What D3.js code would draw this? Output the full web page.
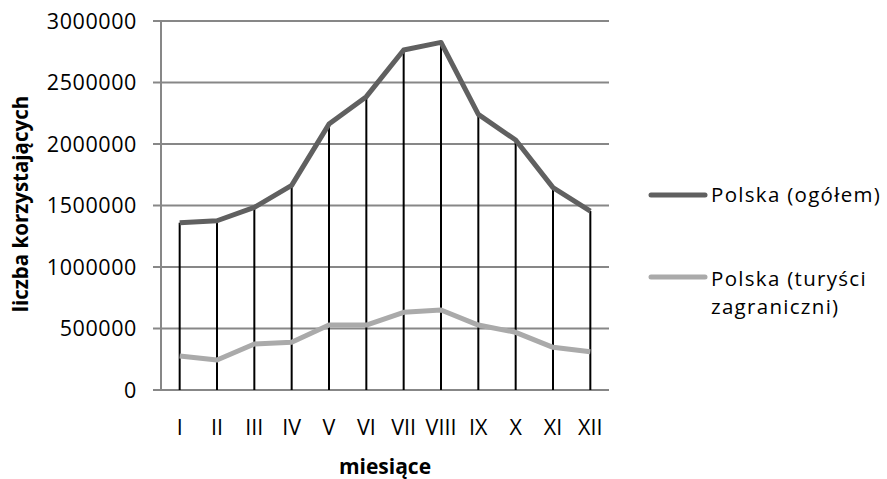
<!DOCTYPE html>
<html><head><meta charset="utf-8">
<script src="https://cdn.jsdelivr.net/npm/d3@7"></script>
<style>body{margin:0;background:#fff}svg{display:block}text{font-family:"Open Sans",sans-serif;fill:#000}</style>
</head><body><svg id="c" width="887" height="479"></svg>
<script>
const months = ["I","II","III","IV","V","VI","VII","VIII","IX","X","XI","XII"];
const total = [1360000,1376000,1485000,1664000,2162000,2385000,2764000,2826000,2241000,2032000,1645000,1455000];
const foreign = [276000,244000,374000,388000,528000,528000,632000,650000,528000,469000,347000,311000];
const yTicks = [0,500000,1000000,1500000,2000000,2500000,3000000];
const seriesNames = ["Polska (ogółem)","Polska (turyści zagraniczni)"];

const svg = d3.select("#c");
const L=161, R=609, T=21, B=390;
const x = d3.scaleBand().domain(months).range([L,R]);
const y = d3.scaleLinear().domain([0,3000000]).range([B,T]);
const fs = 21.5;

// gridlines
const g = svg.append("g");
g.selectAll("line.grid").data(yTicks).join("line")
  .attr("x1",153).attr("x2",R).attr("y1",d=>y(d)).attr("y2",d=>y(d))
  .attr("stroke","#878787").attr("stroke-width",2);
g.append("line").attr("x1",L).attr("x2",L).attr("y1",T).attr("y2",B+1)
  .attr("stroke","#878787").attr("stroke-width",2);

// y tick labels
svg.append("g").selectAll("text").data(yTicks).join("text")
  .attr("x",137).attr("y",d=>y(d)).attr("dy","0.35em").attr("text-anchor","end")
  .attr("font-size",fs).attr("letter-spacing",0.6).text(d=>d);

// x tick labels
svg.append("g").selectAll("text").data(months).join("text")
  .attr("x",d=>x(d)+x.bandwidth()/2).attr("y",427).attr("dy","0.35em").attr("text-anchor","middle")
  .attr("font-size",fs).text(d=>d);

// drop lines
svg.append("g").selectAll("line").data(months).join("line")
  .attr("x1",(d)=>x(d)+x.bandwidth()/2).attr("x2",(d)=>x(d)+x.bandwidth()/2)
  .attr("y1",(d,i)=>y(total[i])).attr("y2",y(0))
  .attr("stroke","#000").attr("stroke-width",2);

const line = d3.line().x((d,i)=>x(months[i])+x.bandwidth()/2).y(d=>y(d));
svg.append("path").datum(foreign).attr("d",line).attr("fill","none")
  .attr("stroke","#aaaaaa").attr("stroke-width",5).attr("stroke-linejoin","round");
svg.append("path").datum(total).attr("d",line).attr("fill","none")
  .attr("stroke","#606060").attr("stroke-width",5).attr("stroke-linejoin","round");

// legend
const lfs = 20.5, lls = 1.3;
const lg = svg.append("g");
lg.append("line").attr("x1",651).attr("x2",705).attr("y1",195).attr("y2",195)
  .attr("stroke","#606060").attr("stroke-width",5).attr("stroke-linecap","round");
lg.append("text").attr("x",711).attr("y",195).attr("dy","0.35em").attr("font-size",lfs)
  .attr("letter-spacing",lls).text(seriesNames[0]);
lg.append("line").attr("x1",651).attr("x2",705).attr("y1",277).attr("y2",277)
  .attr("stroke","#aaaaaa").attr("stroke-width",5).attr("stroke-linecap","round");
const t2 = lg.append("text").attr("x",711).attr("y",279).attr("dy","0.35em").attr("font-size",lfs)
  .attr("letter-spacing",lls);
t2.append("tspan").attr("x",711).text("Polska (turyści");
t2.append("tspan").attr("x",711).attr("dy",28.2).text("zagraniczni)");

// axis titles
svg.append("text").attr("x",385).attr("y",467).attr("dy","0.35em").attr("text-anchor","middle")
  .attr("font-size",21).attr("font-weight","bold").text("miesiące");
svg.append("text").attr("transform","translate(21,204) rotate(-90)").attr("dy","0.35em")
  .attr("text-anchor","middle").attr("font-size",20.5).attr("font-weight","bold").text("liczba korzystających");
</script></body></html>
